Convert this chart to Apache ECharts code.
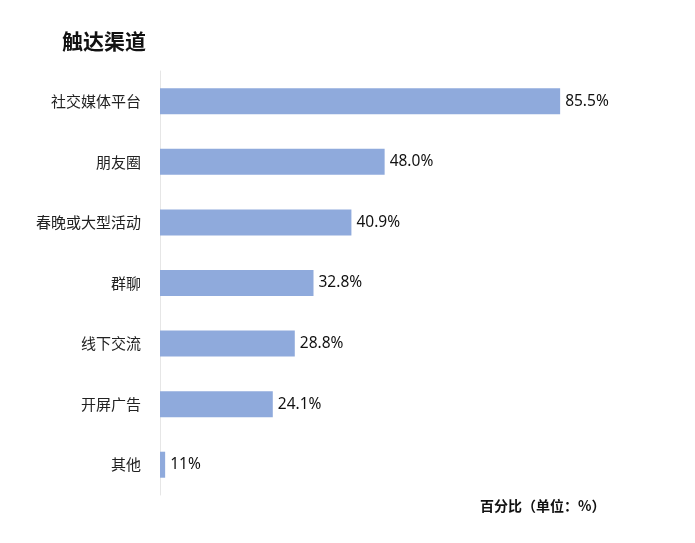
<!DOCTYPE html>
<html>
<head>
<meta charset="utf-8">
<script src="https://cdn.jsdelivr.net/npm/echarts@6/dist/echarts.min.js"></script>
<style>
  html, body { margin: 0; padding: 0; background: #fff; }
  #chart { width: 695px; height: 543px; }
</style>
</head>
<body>
<div id="chart"></div>
<script>
// channels, top to bottom in the picture
var categories = ['社交媒体平台', '朋友圈', '春晚或大型活动', '群聊', '线下交流', '开屏广告', '其他'];
var values = [85.5, 48.0, 40.9, 32.8, 28.8, 24.1, 1.1];
var valueLabels = ['85.5%', '48.0%', '40.9%', '32.8%', '28.8%', '24.1%', '11%'];

var chart = echarts.init(document.getElementById('chart'));

chart.setOption({
  animation: false,
  textStyle: { fontFamily: '"Noto Sans CJK SC", "Noto Sans", sans-serif' },
  title: {
    text: '触达渠道',
    left: 57,
    top: 26,
    textStyle: { fontSize: 21, fontWeight: 'bold', color: '#111' }
  },
  graphic: [{
    type: 'text',
    left: 480,
    top: 499,
    style: {
      text: '百分比（单位：%）',
      font: 'bold 14px "Noto Sans CJK SC", sans-serif',
      fill: '#111'
    }
  }],
  grid: { left: 160, right: 67, top: 71, bottom: 48, containLabel: false },
  xAxis: {
    type: 'value',
    min: 0,
    max: 100,
    show: false
  },
  yAxis: {
    type: 'category',
    inverse: true,
    data: categories,
    axisLine: { show: true, lineStyle: { color: '#e6e6e6', width: 1 } },
    axisTick: { show: false },
    axisLabel: { color: '#222', fontSize: 15, margin: 19 }
  },
  series: [{
    type: 'bar',
    data: values,
    barWidth: 26,
    itemStyle: { color: '#8faadc' },
    label: {
      show: true,
      position: 'right',
      distance: 5,
      color: '#111',
      fontSize: 15.5,
      fontFamily: '"Noto Sans", sans-serif',
      formatter: function (p) { return valueLabels[p.dataIndex]; }
    }
  }]
});
</script>
</body>
</html>
